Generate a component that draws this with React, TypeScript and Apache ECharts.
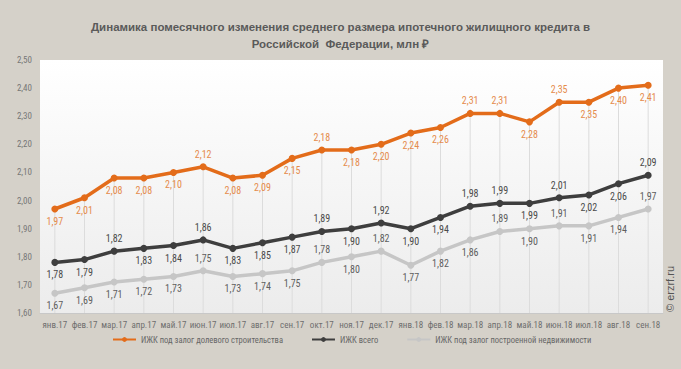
import React, { useEffect, useRef } from "react";
import * as echarts from "echarts";

const categories = ["янв.17","фев.17","мар.17","апр.17","май.17","июн.17","июл.17","авг.17","сен.17","окт.17","ноя.17","дек.17","янв.18","фев.18","мар.18","апр.18","май.18","июн.18","июл.18","авг.18","сен.18"];
const shareConstruction = [1.97,2.01,2.08,2.08,2.10,2.12,2.08,2.09,2.15,2.18,2.18,2.20,2.24,2.26,2.31,2.31,2.28,2.35,2.35,2.40,2.41];
const total = [1.78,1.79,1.82,1.83,1.84,1.86,1.83,1.85,1.87,1.89,1.90,1.92,1.90,1.94,1.98,1.99,1.99,2.01,2.02,2.06,2.09];
const built = [1.67,1.69,1.71,1.72,1.73,1.75,1.73,1.74,1.75,1.78,1.80,1.82,1.77,1.82,1.86,1.89,1.90,1.91,1.91,1.94,1.97];
const orangePos = ["b","b","b","b","b","t","b","b","b","t","b","b","b","b","t","t","b","t","b","b","b"];
const blackPos = ["b","b","t","b","b","t","b","b","b","t","b","t","b","b","t","t","b","t","b","b","t"];
const greyPos = ["b","b","b","b","b","t","b","b","b","t","b","t","b","b","b","t","b","t","b","b","t"];

const FONT = "'Liberation Sans Narrow', 'Arial Narrow', 'Roboto Condensed', 'Liberation Sans', sans-serif";
const fmt = (v: number) => v.toFixed(2).replace(".", ",");

function mkData(vals: number[], pos: string[], color: string) {
  return vals.map((v, i) => ({
    value: v,
    label: {
      position: pos[i] === "t" ? "top" : "bottom",
      distance: 4,
      color,
    },
  }));
}

export default function App() {
  const ref = useRef<HTMLDivElement>(null);
  useEffect(() => {
    const chart = echarts.init(ref.current!, undefined, { renderer: "svg" });
    const labelBase = {
      show: true,
      fontFamily: FONT,
      fontSize: 10,
      formatter: (p: any) => fmt(p.value),
    };
    chart.setOption({
      animation: false,
      backgroundColor: "#d5d1c9",
      title: {
        text: "Динамика помесячного изменения среднего размера ипотечного жилищного кредита в\nРоссийской  Федерации, млн ₽",
        left: "center",
        top: 13,
        textStyle: { fontFamily: "'Liberation Sans', Arial, sans-serif", fontSize: 11.5, fontWeight: "bold", color: "#5a5a5a", lineHeight: 17 },
      },
      legend: {
        bottom: 20,
        left: 107,
        itemWidth: 23,
        itemHeight: 6,
        itemGap: 28,
        textStyle: { fontFamily: FONT, fontSize: 8.5, color: "#666" },
        data: ["ИЖК под залог долевого строительства", "ИЖК всего", "ИЖК под залог построенной недвижимости"],
      },
      grid: {
        left: 40, right: 18, top: 60, bottom: 56,
        show: true,
        borderWidth: 0,
        backgroundColor: new echarts.graphic.LinearGradient(0, 0, 0, 1, [
          { offset: 0, color: "#ffffff" },
          { offset: 1, color: "#ececec" },
        ]),
      },
      xAxis: {
        type: "category",
        data: categories,
        boundaryGap: true,
        axisLine: { lineStyle: { color: "#c8c8c8" } },
        axisTick: { show: false },
        axisLabel: { fontFamily: FONT, fontSize: 9, color: "#6e6e6e", interval: 0, margin: 7 },
      },
      yAxis: {
        type: "value",
        min: 1.6,
        max: 2.5,
        interval: 0.1,
        splitLine: { show: false },
        axisLine: { show: false },
        axisTick: { show: false },
        axisLabel: { fontFamily: FONT, fontSize: 9, color: "#777", formatter: (v: number) => fmt(v), margin: 8 },
      },
      graphic: [
        {
          type: "text",
          x: 670,
          y: 312,
          rotation: Math.PI / 2,
          style: { text: "© erzrf.ru", fontFamily: "'Liberation Sans', sans-serif", fontSize: 11, fill: "#555", align: "left", verticalAlign: "middle" },
        },
      ],
      series: [
        {
          type: "bar",
          data: shareConstruction,
          barWidth: 1,
          silent: true,
          itemStyle: { color: "#dcdcdc" },
          z: 1,
          legendHoverLink: false,
          tooltip: { show: false },
        },
        {
          name: "ИЖК под залог построенной недвижимости",
          type: "line",
          data: mkData(built, greyPos, "#5e5e5e"),
          symbol: "circle",
          symbolSize: 7,
          lineStyle: { width: 3.5, color: "#c6c6c6" },
          itemStyle: { color: "#c6c6c6" },
          label: labelBase,
          z: 3,
        },
        {
          name: "ИЖК всего",
          type: "line",
          data: mkData(total, blackPos, "#4a4a4a"),
          symbol: "circle",
          symbolSize: 7,
          lineStyle: { width: 3.5, color: "#3e3e3e" },
          itemStyle: { color: "#3e3e3e" },
          label: labelBase,
          z: 4,
        },
        {
          name: "ИЖК под залог долевого строительства",
          type: "line",
          data: mkData(shareConstruction, orangePos, "#e58b4c"),
          symbol: "circle",
          symbolSize: 7,
          lineStyle: { width: 3.5, color: "#e36c1a" },
          itemStyle: { color: "#e36c1a" },
          label: labelBase,
          z: 5,
        },
      ],
    });
    return () => chart.dispose();
  }, []);
  return <div ref={ref} style={{ width: 681, height: 369, position: "absolute", left: 0, top: 0 }} />;
}
